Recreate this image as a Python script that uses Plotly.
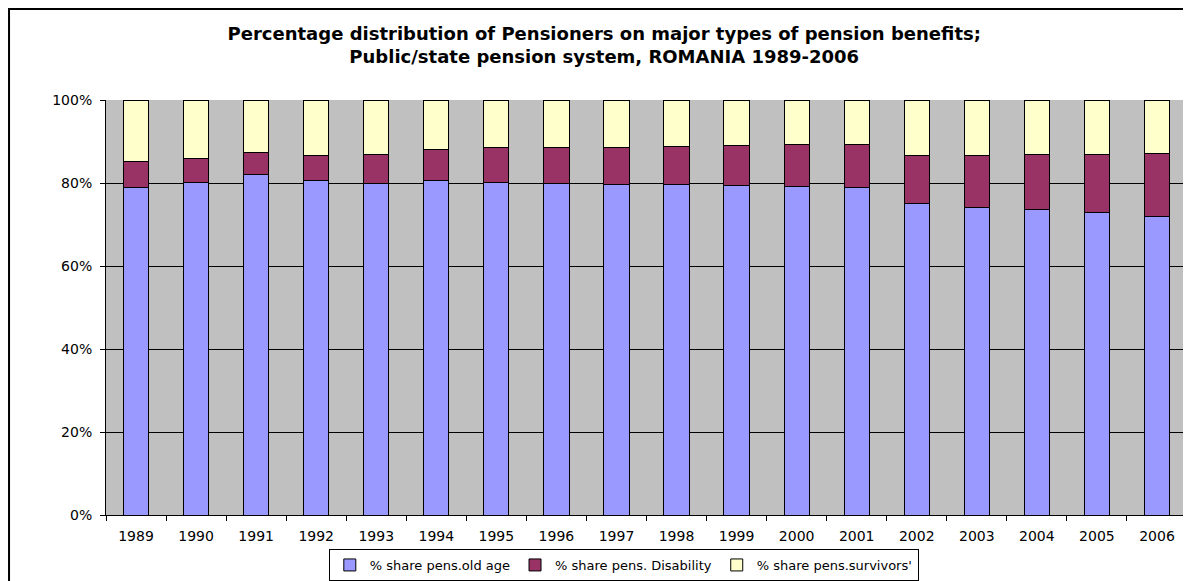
import plotly.graph_objects as go

years = [str(y) for y in range(1989, 2007)]
old_age = [79.0, 80.1, 82.1, 80.6, 79.8, 80.6, 80.1, 79.8, 79.7, 79.6,
           79.4, 79.1, 79.0, 75.1, 74.1, 73.7, 73.0, 72.0]
disability = [6.2, 5.8, 5.3, 6.1, 7.0, 7.4, 8.5, 8.8, 8.9, 9.2,
              9.7, 10.2, 10.3, 11.5, 12.5, 13.1, 13.8, 15.2]
survivors = [14.8, 14.1, 12.6, 13.3, 13.2, 12.0, 11.4, 11.4, 11.4, 11.2,
             10.9, 10.7, 10.7, 13.4, 13.4, 13.2, 13.2, 12.8]

series = [
    ("% share pens.old age", old_age, "#9999FF"),
    ("% share pens. Disability", disability, "#993366"),
    ("% share pens.survivors'", survivors, "#FFFFCC"),
]

fig = go.Figure()
for name, vals, col in series:
    fig.add_bar(x=years, y=vals, name=name, marker_color=col,
                marker_line=dict(color="black", width=1))

# page body has an 8px margin, so the figure is sized to the remaining area
fig.update_layout(
    barmode="stack", bargap=0.58,
    width=1183, height=573,
    margin=dict(l=98, r=4, t=92, b=66, autoexpand=False),
    plot_bgcolor="#C0C0C0", paper_bgcolor="white",
    font=dict(family="DejaVu Sans", size=14, color="black"),
    title=dict(text="<b>Percentage distribution of Pensioners on major types of pension benefits;<br>Public/state pension system, ROMANIA 1989-2006</b>",
               x=0.504, xanchor="center", y=0.944, yanchor="top",
               font=dict(size=18)),
    legend=dict(orientation="h", x=0.479, xanchor="center",
                yref="container", y=0.0, yanchor="bottom",
                bordercolor="black", borderwidth=1, font=dict(size=13),
                traceorder="normal", itemwidth=30, tracegroupgap=0),
    showlegend=True,
)
fig.update_yaxes(range=[0, 100], tickvals=[0, 20, 40, 60, 80, 100],
                 ticktext=["0%", "20%", "40%", "60%", "80%", "100%"],
                 showgrid=True, gridcolor="black", gridwidth=1,
                 showline=True, linecolor="black", ticks="outside",
                 ticklen=5, tickcolor="black", zeroline=False,
                 ticklabelstandoff=5)
fig.update_xaxes(showline=True, linecolor="black", ticks="outside",
                 tickson="boundaries", ticklen=5, tickcolor="black",
                 ticklabelstandoff=8)
fig.add_shape(type="rect", xref="paper", yref="paper",
              x0=-0.0897, x1=1.02, y0=-0.2, y1=1.2193,
              line=dict(color="black", width=2), layer="above")

fig.write_html("out.html")
